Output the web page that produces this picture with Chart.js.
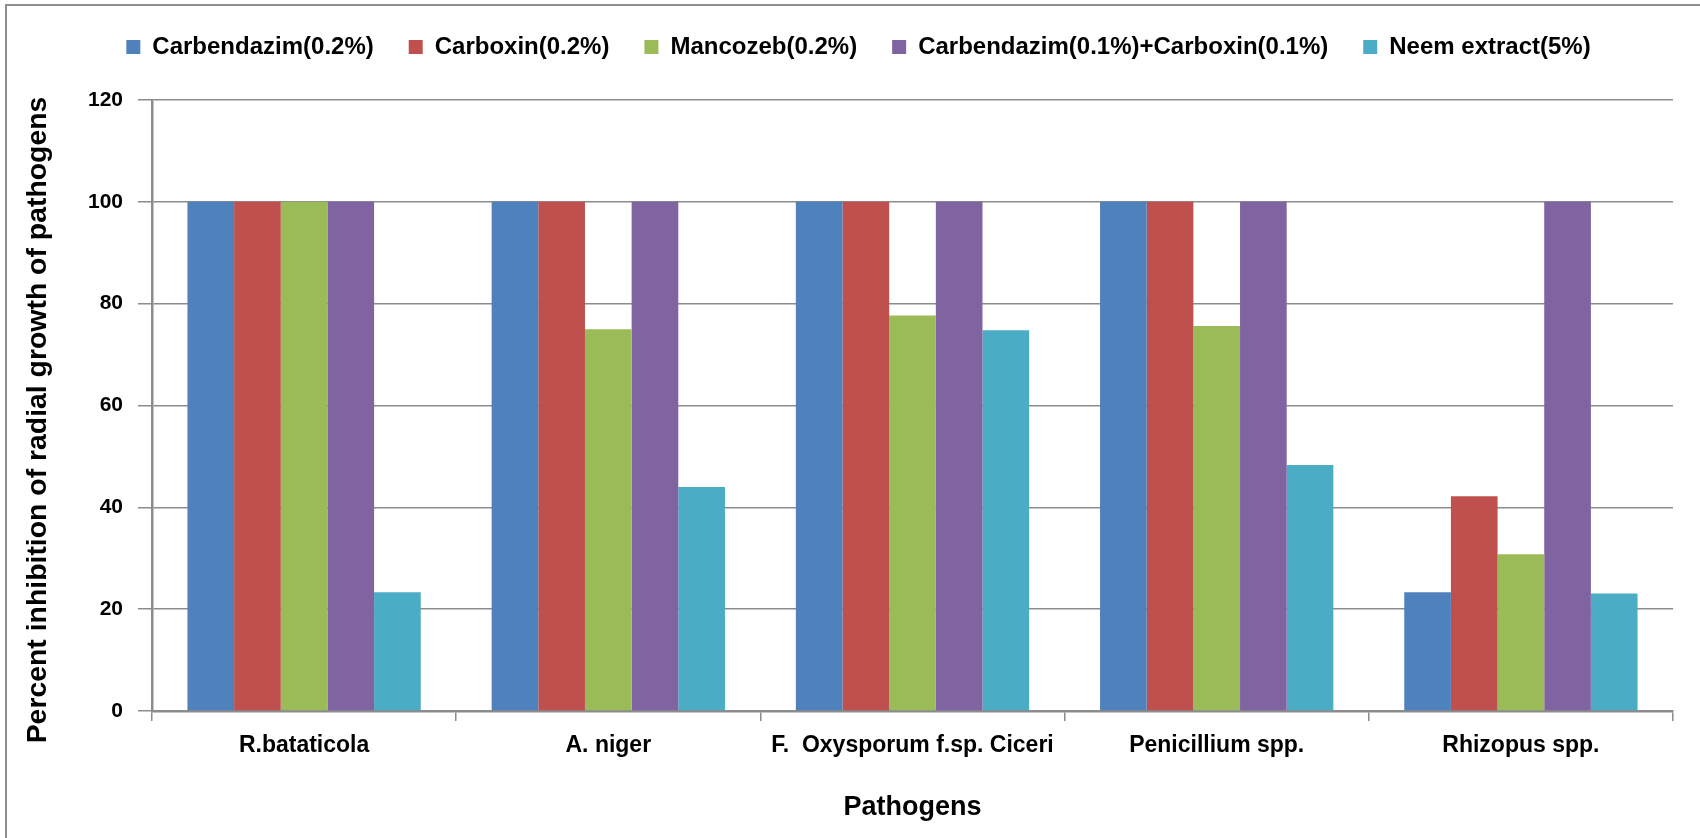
<!DOCTYPE html>
<html>
<head>
<meta charset="utf-8">
<script src="https://cdn.jsdelivr.net/npm/chart.js@4/dist/chart.umd.min.js"></script>
<style>
  body { margin: 0; background: #fff; }
  #wrap { position: relative; width: 1700px; height: 838px; }
  #frame { position: absolute; left: 5px; top: 4px; right: 0; bottom: 0;
           border-top: 2px solid #8e8e8e; border-left: 2px solid #8e8e8e; }
  #chart-inhibition { position: absolute; left: 0; top: 0; }
</style>
</head>
<body>
<div id="wrap">
  <div id="frame"></div>
  <canvas id="chart-inhibition" width="1700" height="838"></canvas>
</div>
<script>
// pathogens on the x axis
const pathogens = ['R.bataticola', 'A. niger', 'F.  Oxysporum f.sp. Ciceri', 'Penicillium spp.', 'Rhizopus spp.'];

// percent inhibition per treatment
const carbendazim = [100, 100, 100, 100, 23.3];
const carboxin = [100, 100, 100, 100, 42.2];
const mancozeb = [100, 75.0, 77.7, 75.6, 30.8];
const carbCarbox = [100, 100, 100, 100, 100];
const neem = [23.3, 44.0, 74.8, 48.3, 23.1];

const yTicks = [0, 20, 40, 60, 80, 100, 120];
const yTitle = 'Percent inhibition of radial growth of pathogens';

const gridGrey = '#8c8c8c';
const txtFont = 'Liberation Sans, Arial, sans-serif';

// legend: fixed height so the plot starts at the right place, nudged right a bit
const legendHeight = {
  id: 'legendHeight',
  beforeInit(chart) {
    const fitOrig = chart.legend.fit;
    chart.legend.fit = function () {
      fitOrig.bind(chart.legend)();
      this.height = 100;
    };
  },
  afterLayout(chart) {
    chart.legend.left += 22;
    chart.legend.right += 22;
  }
};

// vertical axis title, drawn by hand so it sits a little below the plot's middle
const yTitlePlugin = {
  id: 'yTitlePlugin',
  afterDraw(chart) {
    const ctx = chart.ctx;
    ctx.save();
    ctx.translate(38, 420);
    ctx.rotate(-Math.PI / 2);
    ctx.font = 'bold 28.4px ' + txtFont;
    ctx.fillStyle = '#000';
    ctx.textAlign = 'center';
    ctx.textBaseline = 'middle';
    ctx.fillText(yTitle, 0, 0);
    ctx.restore();
  }
};

const data = {
  labels: pathogens,
  datasets: [
    { label: 'Carbendazim(0.2%)', data: carbendazim, backgroundColor: '#4F81BD' },
    { label: 'Carboxin(0.2%)', data: carboxin, backgroundColor: '#C0504D' },
    { label: 'Mancozeb(0.2%)', data: mancozeb, backgroundColor: '#9BBB59' },
    { label: 'Carbendazim(0.1%)+Carboxin(0.1%)', data: carbCarbox, backgroundColor: '#8064A2' },
    { label: 'Neem extract(5%)', data: neem, backgroundColor: '#4BACC6' }
  ]
};

const config = {
  type: 'bar',
  data,
  options: {
    responsive: false,
    animation: false,
    layout: { padding: { top: 0, left: 0, right: 27, bottom: 0 } },
    datasets: {
      bar: { categoryPercentage: 0.767, barPercentage: 1.0, borderWidth: 0 }
    },
    plugins: {
      tooltip: { enabled: false },
      legend: {
        position: 'top',
        labels: {
          boxWidth: 14,
          boxHeight: 14,
          padding: 35,
          color: '#000',
          font: { family: txtFont, size: 24, weight: 'bold' }
        }
      }
    },
    scales: {
      x: {
        grid: { display: true, drawOnChartArea: false, drawTicks: true, tickLength: 10, color: gridGrey, lineWidth: 1.5 },
        border: { display: true, color: gridGrey, width: 2.5 },
        ticks: { color: '#000', padding: 11, maxRotation: 0, font: { family: txtFont, size: 23, weight: 'bold' } },
        title: {
          display: true,
          text: 'Pathogens',
          color: '#000',
          padding: { top: 14, bottom: 14 },
          font: { family: txtFont, size: 27, weight: 'bold' }
        },
        afterFit(scale) { scale.height = 127; }
      },
      y: {
        min: 0,
        max: 120,
        afterBuildTicks(scale) { scale.ticks = yTicks.map(v => ({ value: v })); },
        grid: { color: gridGrey, lineWidth: 1.5, tickLength: 14 },
        border: { display: true, color: gridGrey, width: 2.5 },
        ticks: { color: '#000', padding: 15, font: { family: txtFont, size: 21, weight: 'bold' } },
        afterFit(scale) { scale.width = 152; }
      }
    }
  },
  plugins: [legendHeight, yTitlePlugin]
};

const myChart = new Chart(document.getElementById('chart-inhibition'), config);
</script>
</body>
</html>
